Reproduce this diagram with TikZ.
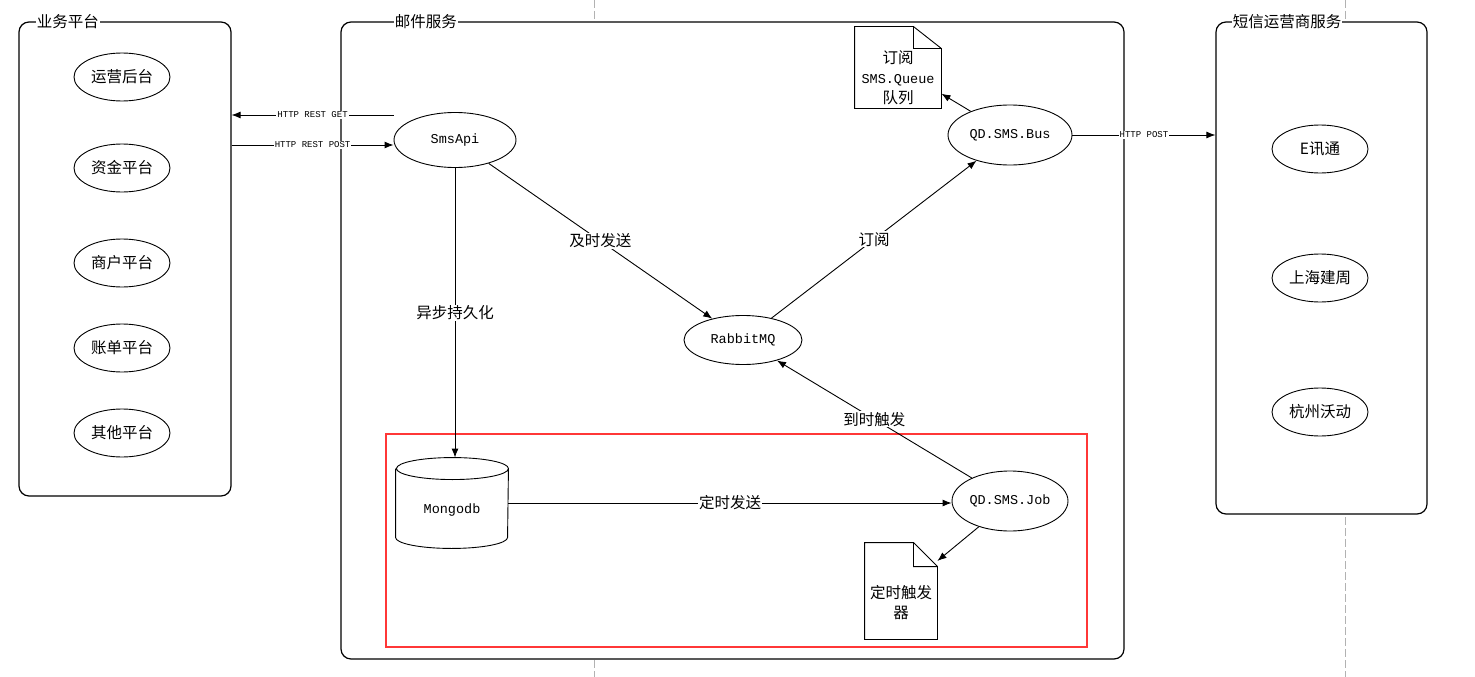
\documentclass[tikz,border=0pt]{standalone}
\usepackage{fontspec}
\setmainfont{Liberation Mono}
\newfontfamily\cjk{Noto Sans CJK SC}
\usetikzlibrary{shapes.geometric,arrows.meta}
\definecolor{alarm}{RGB}{255,55,55}
\newcommand\zhtext[1]{{\cjk\fontsize{15.5}{20}\selectfont #1}}

\begin{document}
\begin{tikzpicture}[x=1pt,y=-1pt,line width=0.9pt,
	lat/.style={font=\fontsize{13.5}{20}\selectfont},
	zh/.style={font=\cjk\fontsize{15.5}{20}\selectfont},
	httplbl/.style={font=\fontsize{9}{11}\selectfont,fill=white,inner sep=1pt},
	lbl/.style={zh,fill=white,inner sep=1pt},
	groupbox/.style={draw,fill=white,rounded corners=10pt,line width=1.2pt},
	grouptitle/.style={zh,fill=white,inner sep=1pt,anchor=west},
	ell/.style={draw,ellipse,inner sep=0pt},
	plat/.style={ell,zh,minimum width=96pt,minimum height=48pt},
	arr/.style={-{Latex[length=9pt,width=7pt]}},
	pagebreak/.style={gray!60,dash pattern=on 8pt off 3pt}
]
\path[use as bounding box,fill=white] (0,0) rectangle (1475,677);

\draw[pagebreak] (594,0) -- (594,677);
\draw[pagebreak] (1345,0) -- (1345,677);

\node[groupbox,minimum width=212pt,minimum height=474pt](yewu) at(125,259) {};
\node[grouptitle](yewut) at([xshift=17pt]yewu.north west) {业务平台};
\node[groupbox,minimum width=783pt,minimum height=637pt](mail) at(732.5,340.5) {};
\node[grouptitle](mailt) at([xshift=53pt]mail.north west) {邮件服务};
\node[groupbox,minimum width=211pt,minimum height=492pt](sms) at(1321.5,268) {};
\node[grouptitle](smst) at([xshift=16pt]sms.north west) {短信运营商服务};

\draw[alarm,line width=2.6pt] (386,434) rectangle (1087,647);

\foreach[count=\i] \t/\y in {运营后台/77,资金平台/168,商户平台/263,账单平台/348,其他平台/433}{
	\node[plat](p\i) at(122,\y) {\t};
}
\foreach[count=\i] \t/\y in {E讯通/149,上海建周/278,杭州沃动/412}{
	\node[plat](s\i) at(1320,\y) {\t};
}

\node[ell,lat,minimum width=122pt,minimum height=55pt](smsapi) at(455,140) {SmsApi};
\node[ell,lat,minimum width=124pt,minimum height=60pt](bus) at(1010,135) {QD.SMS.Bus};
\node[ell,lat,minimum width=118pt,minimum height=49pt](mq) at(743,340) {RabbitMQ};
\node[ell,lat,minimum width=116pt,minimum height=60pt](job) at(1010,501) {QD.SMS.Job};

% mongodb cylinder
\node[minimum width=112pt,minimum height=90pt,inner sep=0pt,
	label={[lat,yshift=-7pt]center:Mongodb}](mongo) at(452,503) {};
\draw ([yshift=-11pt]mongo.north west) -- ([yshift=11pt]mongo.south west)
	arc[start angle=180,end angle=360,x radius=56pt,y radius=11pt]
	-- ([yshift=-11pt]mongo.north east)
	arc[start angle=0,end angle=180,x radius=56pt,y radius=11pt]
	arc[start angle=180,end angle=360,x radius=56pt,y radius=11pt];

% documents
\node[minimum width=86pt,minimum height=81pt,
	label={[lat,align=center,yshift=-10pt]center:\zhtext{订阅}\\SMS.Queue\\\zhtext{队列}}](queue) at(898,67.5) {};
\draw (queue.north west) -- ([xshift=-28pt]queue.north east) -- ([yshift=-22pt]queue.north east)
	-- (queue.south east) -- (queue.south west) -- cycle
	([xshift=-28pt]queue.north east) |- ([yshift=-22pt]queue.north east);
\node[minimum width=72pt,minimum height=96pt,
	label={[zh,align=center,yshift=-12pt]center:定时触发\\器}](trigger) at(901,591) {};
\draw (trigger.north west) -- ([xshift=-24pt]trigger.north east) -- ([yshift=-24pt]trigger.north east)
	-- (trigger.south east) -- (trigger.south west) -- cycle
	([xshift=-24pt]trigger.north east) |- ([yshift=-24pt]trigger.north east);

\draw[arr] (smsapi.west |- 0,115) -- node[httplbl]{HTTP REST GET} (yewu.east |- 0,115);
\draw[arr] (yewu.east |- 0,145) -- node[httplbl]{HTTP REST POST} (smsapi.west |- 0,145);
\draw[arr] (bus.east) -- node[httplbl]{HTTP POST} (bus.east -| sms.west);
\draw[arr] (smsapi) -- node[lbl]{及时发送} (mq);
\draw[arr] (smsapi.south) -- node[lbl]{异步持久化} (smsapi.south |- mongo.north);
\draw[arr] (mq) -- node[lbl]{订阅} (bus);
\draw[arr] (bus) -- (queue);
\draw[arr] (job) -- node[lbl]{到时触发} (mq);
\draw[arr] (mongo.east) -- node[lbl]{定时发送} (mongo.east -| job.west);
\draw[arr] (job) -- (trigger);
\end{tikzpicture}
\end{document}
